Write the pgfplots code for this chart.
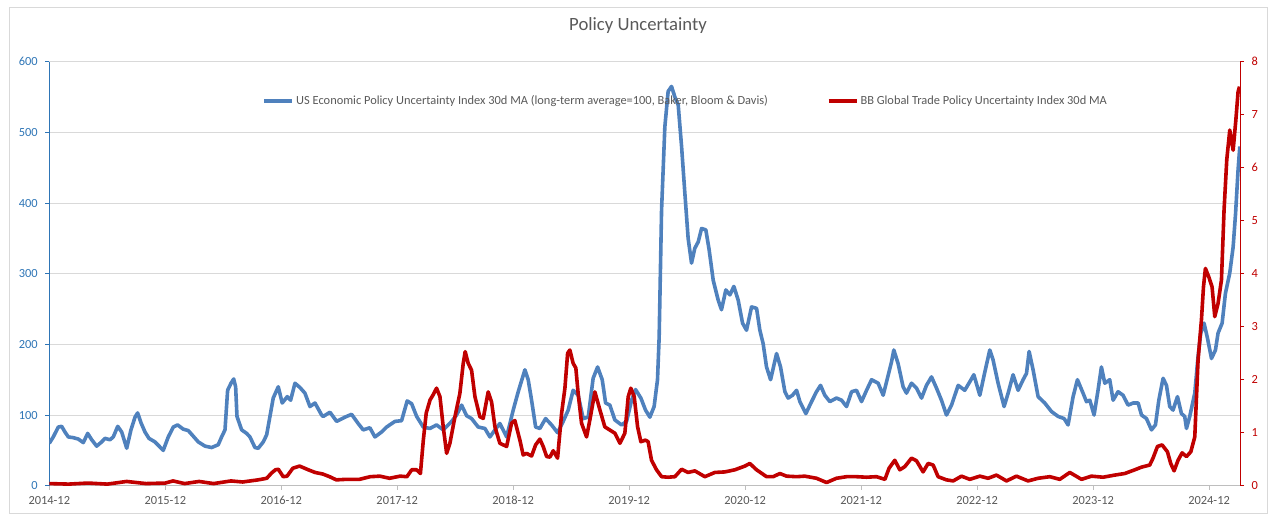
\documentclass[border=0pt]{standalone}
\usepackage{pgfplots}
\pgfplotsset{compat=1.18}
\usepackage{fontspec}
\setmainfont{Carlito}

\definecolor{lineblue}{HTML}{4F81BD}
\definecolor{axisblue}{HTML}{2E75B6}
\definecolor{redc}{HTML}{C00000}
\definecolor{gridgray}{HTML}{D9D9D9}
\definecolor{labelgray}{HTML}{595959}

% x = months since 2014-12
\pgfplotstableread{
m v
0.0 60
0.41 69
0.93 83
1.28 84
1.62 76
1.97 69
2.48 68
3.00 66
3.52 61
3.97 74
4.39 65
4.90 56
5.42 62
5.76 67
6.28 65
6.62 69
7.08 84
7.49 76
8.01 53
8.45 79
8.87 97
9.14 103
9.49 89
9.90 76
10.31 67
10.93 62
11.79 50
12.31 69
12.83 83
13.28 86
13.86 80
14.38 78
14.90 70
15.41 62
16.11 56
16.80 54
17.48 58
17.83 69
18.18 79
18.45 135
18.80 145
19.08 151
19.28 140
19.42 98
19.90 79
20.42 74
20.76 69
21.28 54
21.62 53
22.14 62
22.49 72
22.83 98
23.17 124
23.69 140
24.10 117
24.62 126
24.97 121
25.42 145
25.93 139
26.45 131
26.97 112
27.49 117
28.18 100
28.34 98
29.04 104
29.73 91
30.59 97
31.28 101
31.96 88
32.48 79
33.17 82
33.69 69
34.38 76
34.90 83
35.76 91
36.45 92
37.03 120
37.49 116
38.01 98
38.69 83
39.38 81
40.07 86
40.76 79
41.63 91
42.14 100
42.66 114
43.18 99
43.69 95
44.38 83
45.07 81
45.59 69
46.11 79
46.62 88
47.32 69
48.00 107
48.52 133
49.21 164
49.55 150
49.90 121
50.32 83
50.76 81
51.35 95
51.97 86
52.59 75
53.17 91
53.69 107
54.20 135
54.72 128
55.24 95
55.76 97
56.27 152
56.73 168
57.21 150
57.56 117
58.00 114
58.52 93
59.21 86
59.73 91
60.25 121
60.66 136
61.21 124
61.69 107
62.14 97
62.58 112
62.93 150
63.10 210
63.35 390
63.69 508
64.03 558
64.38 565
64.73 550
65.07 539
65.42 480
65.76 414
66.10 350
66.45 315
66.79 336
67.14 345
67.49 364
67.93 362
68.27 334
68.69 291
69.20 263
69.55 249
70.00 277
70.42 270
70.83 282
71.27 263
71.73 230
72.14 220
72.66 253
73.18 251
73.52 220
73.86 201
74.21 168
74.63 150
75.25 187
75.66 168
76.11 133
76.45 124
76.90 128
77.32 135
77.66 119
78.28 102
78.87 119
79.38 133
79.80 142
80.24 128
80.76 119
81.45 124
81.97 121
82.49 112
83.01 133
83.52 135
84.04 119
84.56 135
85.08 150
85.76 145
86.28 128
86.81 157
87.14 175
87.38 192
87.82 173
88.34 140
88.69 131
89.21 145
89.73 138
90.25 124
90.76 142
91.28 154
91.80 138
92.31 121
92.83 100
93.35 114
94.04 142
94.72 135
95.24 147
95.66 157
96.28 128
96.80 161
97.31 192
97.65 178
98.17 145
98.79 112
99.21 131
99.72 157
100.24 135
100.76 150
101.11 159
101.38 190
101.79 164
102.31 126
103.00 117
103.69 105
104.38 98
105.00 95
105.41 86
105.93 126
106.38 150
106.96 131
107.31 119
107.66 121
108.10 100
108.51 135
108.86 168
109.21 145
109.72 150
110.07 121
110.58 133
111.10 128
111.62 114
112.14 117
112.66 117
113.01 100
113.52 95
114.04 79
114.45 86
114.80 121
115.24 152
115.59 142
115.93 112
116.27 107
116.73 126
117.14 102
117.48 98
117.66 81
118.00 98
118.52 131
118.86 183
119.14 216
119.48 230
119.83 209
120.25 180
120.66 192
120.93 216
121.35 230
121.69 272
122.14 301
122.49 338
122.74 385
123.00 447
123.18 480
}\epu

\pgfplotstableread{
m v
0.0 0.04
2.0 0.03
4.0 0.05
6.0 0.03
8.0 0.08
10.0 0.04
12.0 0.05
12.8 0.09
14.0 0.04
15.5 0.08
17.0 0.04
18.8 0.09
20.0 0.07
21.6 0.11
22.5 0.14
23.0 0.24
23.4 0.30
23.7 0.31
24.2 0.17
24.6 0.18
25.2 0.33
25.9 0.37
26.8 0.30
27.5 0.25
28.3 0.22
29.0 0.17
29.7 0.11
30.7 0.12
32.1 0.12
33.2 0.17
34.2 0.18
35.2 0.14
36.3 0.18
37.0 0.17
37.5 0.30
38.0 0.30
38.4 0.23
38.7 0.86
39.0 1.37
39.4 1.62
39.7 1.71
40.07 1.84
40.42 1.68
40.76 1.11
41.11 0.61
41.45 0.80
41.97 1.30
42.48 1.74
42.83 2.31
43.03 2.53
43.34 2.31
43.69 2.18
44.04 1.68
44.55 1.30
44.90 1.27
45.41 1.77
45.76 1.58
46.11 1.11
46.62 0.80
47.32 0.74
47.83 1.18
48.17 1.23
48.69 0.86
49.03 0.58
49.38 0.61
49.90 0.56
50.32 0.77
50.76 0.88
51.10 0.74
51.46 0.55
51.80 0.54
52.14 0.66
52.59 0.52
53.01 1.37
53.35 1.84
53.63 2.50
53.86 2.56
54.20 2.31
54.48 2.22
54.72 1.74
55.07 1.18
55.59 0.92
55.93 1.24
56.45 1.77
56.97 1.43
57.48 1.11
58.00 1.05
58.52 0.99
59.04 0.80
59.55 0.99
59.90 1.68
60.17 1.84
60.52 1.68
60.87 1.11
61.21 0.83
61.69 0.86
61.96 0.83
62.31 0.48
62.83 0.30
63.35 0.17
64.03 0.16
64.73 0.17
65.42 0.31
66.10 0.25
66.79 0.28
67.83 0.17
68.86 0.25
69.90 0.26
70.93 0.30
71.97 0.37
72.48 0.42
73.00 0.33
73.18 0.30
74.21 0.17
74.90 0.17
75.59 0.23
76.28 0.18
77.32 0.17
78.17 0.18
79.38 0.14
80.42 0.06
81.45 0.14
82.49 0.17
83.52 0.17
84.56 0.16
85.59 0.17
86.46 0.12
86.89 0.33
87.48 0.48
88.00 0.30
88.52 0.36
89.21 0.52
89.73 0.47
90.41 0.26
90.93 0.42
91.45 0.39
91.96 0.17
92.83 0.11
93.52 0.09
94.38 0.18
95.24 0.12
96.28 0.18
97.14 0.14
98.00 0.20
99.04 0.09
100.07 0.18
101.27 0.09
102.31 0.14
103.52 0.17
104.55 0.12
105.59 0.25
106.80 0.12
107.83 0.18
109.03 0.16
110.24 0.20
111.28 0.23
112.31 0.30
113.01 0.35
113.86 0.39
114.20 0.52
114.66 0.74
115.14 0.77
115.69 0.64
116.03 0.42
116.38 0.28
116.79 0.48
117.21 0.62
117.66 0.55
118.11 0.64
118.52 0.92
118.86 2.37
119.21 3.13
119.42 3.75
119.62 4.10
119.97 3.94
120.31 3.75
120.59 3.19
120.93 3.44
121.28 3.88
121.55 5.20
121.83 6.15
122.14 6.71
122.49 6.33
122.77 6.90
123.00 7.43
123.15 7.53
}\tpu

\pgfplotsset{
  base/.style={
    width=1190.7pt, height=424pt, scale only axis,
    at={(0,0)}, anchor=south west,
    xmin=0, xmax=123.2,
    tick align=outside, major tick length=4pt,
    /pgf/number format/assume math mode=true,
    ticklabel style={font=\fontsize{12.4}{14}\selectfont},
  },
}

\begin{document}
\begin{tikzpicture}
\begin{axis}[base,
  ymin=0, ymax=600,
  axis x line*=bottom, axis y line*=left,
  x axis line style={draw=gridgray!70!gray, line width=0.8pt, -},
  y axis line style={draw=axisblue, line width=1pt, -},
  xtick={0,12,...,120},
  xticklabels={2014-12,2015-12,2016-12,2017-12,2018-12,2019-12,2020-12,2021-12,2022-12,2023-12,2024-12},
  xticklabel style={text=labelgray, yshift=-3pt},
  xtick style={draw=gridgray!70!gray, line width=0.8pt},
  ytick={0,100,...,600},
  yticklabel style={text=axisblue, xshift=-4pt},
  ytick style={draw=axisblue, line width=1pt},
  ymajorgrids, grid style={draw=gridgray, line width=0.8pt},
  title={Policy Uncertainty},
  title style={at={(axis description cs:0.4944,1.070)}, anchor=center,
    font=\fontsize{18.7}{22}\selectfont, text=labelgray},
]
\addplot[lineblue, line width=3.6pt, line join=round] table[x=m, y=v] {\epu};
\end{axis}

\begin{axis}[base,
  ymin=0, ymax=8,
  axis x line=none, axis y line*=right,
  y axis line style={draw=redc, line width=1pt, -},
  ytick={0,1,...,8},
  yticklabel style={text=redc, xshift=4pt},
  ytick style={draw=redc, line width=1pt},
  legend columns=2,
  legend style={at={(0.179,0.907)}, anchor=west, draw=none, fill=none,
    inner sep=0pt, font=\fontsize{12.4}{14}\selectfont, text=labelgray,
    /tikz/every even column/.append style={column sep=57pt}},
  legend image code/.code={\draw[#1] (0pt,0pt) -- (28pt,0pt);},
]
\addlegendimage{lineblue, line width=3.6pt}
\addlegendentry{US Economic Policy Uncertainty Index 30d MA (long-term average=100, Baker, Bloom \& Davis)}
\addplot[redc, line width=3.6pt, line join=round] table[x=m, y=v] {\tpu};
\addlegendentry{BB Global Trade Policy Uncertainty Index 30d MA}
\end{axis}

\draw[gridgray, line width=0.8pt] (-40pt,-27.3pt) rectangle (1217.7pt,478.7pt);
\pgfresetboundingbox
\path[use as bounding box] (-49.3pt,-36.3pt) rectangle (1230.7pt,485.7pt);
\end{tikzpicture}
\end{document}
